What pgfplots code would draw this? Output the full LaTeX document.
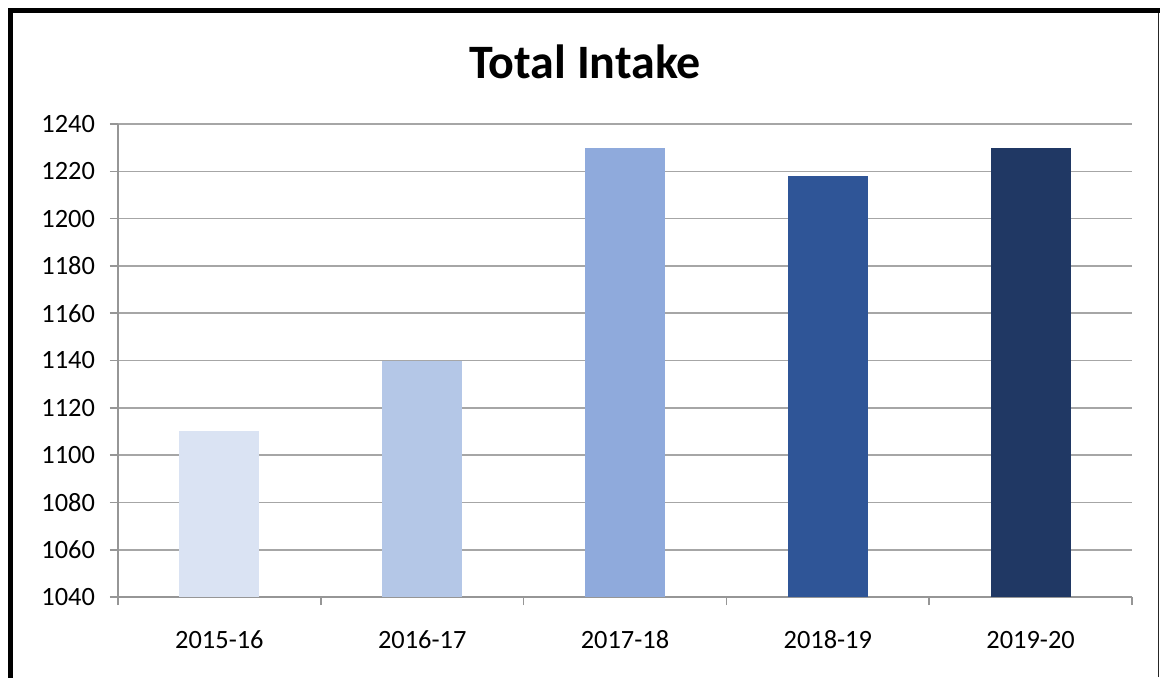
\documentclass[border=0pt]{standalone}
\usepackage{fontspec}
\setmainfont{Carlito}
\usepackage{pgfplots}
\pgfplotsset{compat=1.18}
\definecolor{c1}{HTML}{DAE3F3}
\definecolor{c2}{HTML}{B4C7E7}
\definecolor{c3}{HTML}{8FAADC}
\definecolor{c4}{HTML}{2F5597}
\definecolor{c5}{HTML}{203864}
\definecolor{gridc}{HTML}{A6A6A6}
\definecolor{axc}{HTML}{969696}
\begin{document}
\begin{tikzpicture}
\path[use as bounding box, fill=white] (0,0) rectangle (580pt,338.5pt);
\draw[line width=2.5pt, line cap=rect] (5.25pt,0) -- (5.25pt,333.25pt) -- (580pt,333.25pt);
\draw[line width=0.6pt, color=black!85] (579.4pt,0) -- (579.4pt,332pt);
\node[font=\fontsize{24}{28}\selectfont\bfseries] at (292.5pt,307.5pt) {Total Intake};
\begin{axis}[
  at={(59pt,40pt)}, anchor=south west,
  scale only axis, width=507pt, height=236.5pt,
  xmin=-0.5, xmax=4.5, ymin=1040, ymax=1240,
  ytick={1040,1060,...,1240},
  xtick={0,1,2,3,4},
  xticklabels={2015-16,2016-17,2017-18,2018-19,2019-20},
  minor xtick={-0.5,0.5,1.5,2.5,3.5,4.5},
  minor x tick style={color=axc, line width=0.8pt},
  minor tick length=4pt,
  major x tick style={draw=none},
  axis x line*=bottom, axis y line*=left,
  x axis line style={-, color=axc, line width=1.2pt},
  y axis line style={-, color=axc, line width=1pt},
  tick align=outside,
  major tick length=4pt,
  ytick style={color=axc, line width=0.8pt},
  ymajorgrids, grid style={color=gridc, line width=0.8pt},
  /pgf/number format/assume math mode=true,
  /pgf/number format/1000 sep={},
  tick label style={font=\fontsize{13.2}{16}\selectfont, color=black},
  yticklabel style={xshift=-4pt},
  xticklabel style={yshift=-9pt, text height=9pt, text depth=0pt},
  ybar, bar width=40pt, bar shift=0pt,
  enlargelimits=false,
  clip=false,
]
\addplot[fill=c1, draw=none] coordinates {(0,1110)};
\addplot[fill=c2, draw=none] coordinates {(1,1140)};
\addplot[fill=c3, draw=none] coordinates {(2,1230)};
\addplot[fill=c4, draw=none] coordinates {(3,1218)};
\addplot[fill=c5, draw=none] coordinates {(4,1230)};
\end{axis}
\end{tikzpicture}
\end{document}
